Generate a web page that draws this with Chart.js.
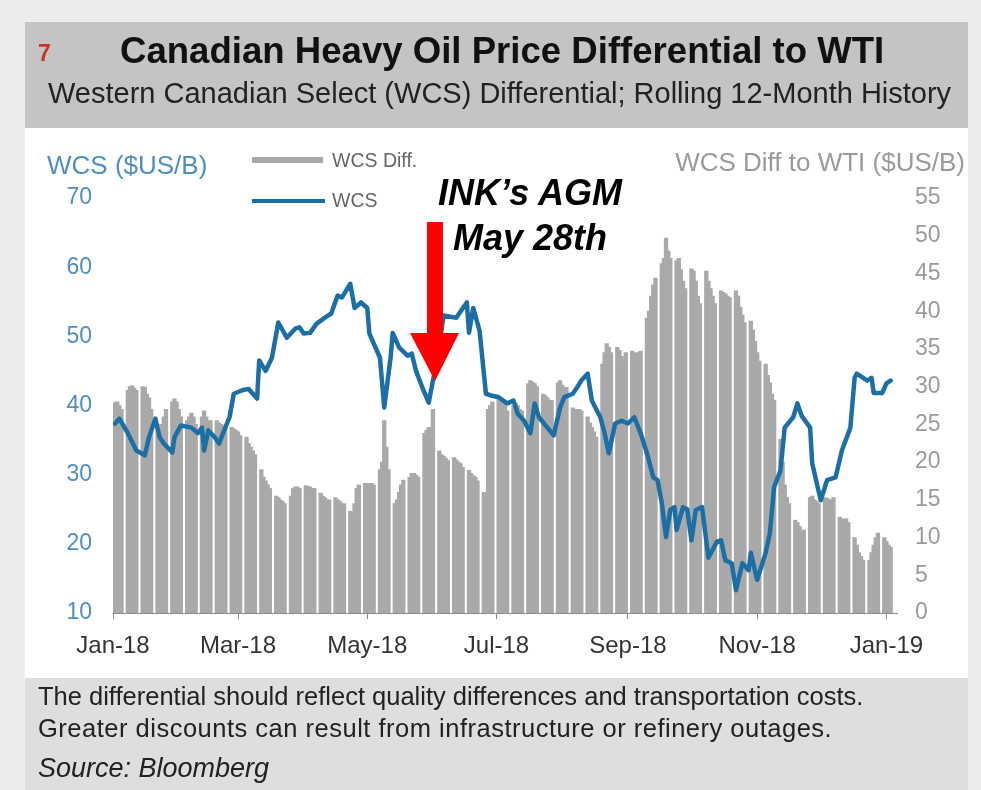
<!DOCTYPE html>
<html><head><meta charset="utf-8">
<script src="https://cdn.jsdelivr.net/npm/chart.js@4.4.1/dist/chart.umd.min.js"></script>
<style>
html,body{margin:0;padding:0;}
body{width:981px;height:790px;position:relative;background:#ececec;font-family:"Liberation Sans",Arial,sans-serif;overflow:hidden;}
#band{position:absolute;left:25px;top:22px;width:943px;height:106px;background:#c4c4c4;}
#panel{position:absolute;left:25px;top:128px;width:943px;height:550px;background:#ffffff;}
#foot{position:absolute;left:25px;top:678px;width:943px;height:112px;background:#dedede;}
canvas{position:absolute;left:0;top:0;}
.t{position:absolute;white-space:nowrap;line-height:1;}
svg{position:absolute;left:0;top:0;}
</style></head><body>
<div id="band"></div><div id="panel"></div><div id="foot"></div>
<canvas id="c" width="981" height="790"></canvas>
<div class="t" style="left:38px;top:42px;font-size:23px;font-weight:bold;color:#c8332b;">7</div>
<div class="t" style="left:120px;top:33px;font-size:36.6px;font-weight:bold;color:#111;">Canadian Heavy Oil Price Differential to WTI</div>
<div class="t" style="left:48px;top:79px;font-size:29px;color:#222;">Western Canadian Select (WCS) Differential; Rolling 12-Month History</div>
<div class="t" style="left:47px;top:152px;font-size:26px;color:#4f8fc0;">WCS ($US/B)</div>
<div class="t" style="right:16px;top:149px;font-size:26px;color:#9a9a9a;">WCS Diff to WTI ($US/B)</div>
<div style="position:absolute;left:252px;top:157px;width:71px;height:6px;background:#a9a9a9;"></div>
<div class="t" style="left:332px;top:151px;font-size:19.5px;color:#666;">WCS Diff.</div>
<div style="position:absolute;left:252px;top:199px;width:73px;height:4px;background:#1c6fa5;"></div>
<div class="t" style="left:332px;top:191px;font-size:19.5px;color:#666;">WCS</div>
<div class="t" style="left:380px;top:175px;width:300px;text-align:center;font-size:36px;font-weight:bold;font-style:italic;color:#000;">INK’s AGM</div>
<div class="t" style="left:380px;top:220px;width:300px;text-align:center;font-size:36px;font-weight:bold;font-style:italic;color:#000;">May 28th</div>
<svg width="981" height="790"><rect x="427" y="222" width="16" height="112" fill="#ff0000"/><polygon points="410,333 459,333 435,381" fill="#ff0000"/></svg>
<div class="t" style="left:38px;top:684px;font-size:25.5px;color:#222;">The differential should reflect quality differences and transportation costs.</div>
<div class="t" style="left:38px;top:716px;font-size:25.5px;letter-spacing:0.5px;color:#222;">Greater discounts can result from infrastructure or refinery outages.</div>
<div class="t" style="left:38px;top:755px;font-size:27px;font-style:italic;color:#222;">Source: Bloomberg</div>
<script>
// x values are days since 2018-01-01 (a Monday)
const xTickDays = [0, 59, 120, 181, 243, 304, 365];
const xTickLabels = ['Jan-18', 'Mar-18', 'May-18', 'Jul-18', 'Sep-18', 'Nov-18', 'Jan-19'];

// WCS differential to WTI ($US/B), business days Mon..Fri, week by week from 2018-01-01
const wcsDiffWeeks = [
  [27.5, 27.9, 28, 27.5, 27],
  [29.5, 30, 30.1, 29.8, 29.5],
  [30, 29.9, 29, 28.5, 27],
  [25, 24.5, 25, 26, 27],
  [28, 28.4, 28, 27, 26],
  [25.5, 26, 26.5, 26, 25],
  [26, 26.8, 26, 25.5, 25.5],
  [25.5, 25.2, 25, 24.8, 24.5],
  [24.6, 24.4, 24.2, 24, 23.5],
  [23.3, 22.5, 22, 21.5, 21],
  [19, 18, 17.5, 17, 16.5],
  [15.5, 15.3, 15, 14.8, 14.5],
  [15.5, 16.5, 16.7, 16.7, 16.5],
  [16.9, 16.8, 16.7, 16.5, 16.5],
  [15.9, 15.5, 15.3, 15, 15],
  [15.3, 15, 14.8, 14.5, 14.5],
  [13.5, 13.2, 14.5, 16.5, 17],
  [17.2, 17.2, 17, 17.2, 17],
  [19, 20, 25.5, 22, 19],
  [14.5, 15, 16, 17, 17.6],
  [18, 18.5, 18.5, 18.3, 18],
  [23.8, 24.2, 24.6, 24.2, 27],
  [21.5, 21, 20.8, 20.5, 20.2],
  [20.6, 20.3, 20, 19.8, 19.3],
  [18.9, 18.5, 18.2, 18, 17.5],
  [16, 15.5, 27, 27.5, 28],
  [28.5, 28.2, 27.8, 27.5, 26.8],
  [27.5, 27.8, 27.5, 27, 26.8],
  [30.4, 30.8, 30.6, 30.4, 30],
  [29, 28.8, 28.5, 28.2, 28.2],
  [30.5, 30.8, 30.2, 29.9, 29.9],
  [27.2, 27, 26.8, 27, 26.8],
  [26, 25.2, 24.6, 24, 23.3],
  [33, 34.5, 35.7, 35.2, 34.5],
  [35.2, 34.8, 34, 33.4, 34.5],
  [34.7, 34.5, 34.4, 34.5, 34.7],
  [39.1, 40, 42, 43.5, 44.4],
  [46.3, 47, 49.7, 48, 47],
  [46.7, 47, 45.5, 44, 43],
  [45.6, 45.3, 44, 42, 41],
  [45.3, 44, 43, 42, 41],
  [42.7, 42.5, 42.3, 42, 41.8],
  [42.7, 42, 40.5, 39.5, 38.5],
  [38.7, 37.5, 36, 34.5, 33.4],
  [33, 31.5, 30.5, 29, 28.2],
  [23, 20, 17, 15.3, 14.5],
  [12.3, 12, 11.5, 11, 11],
  [15.3, 15.5, 15, 14.8, 14.5],
  [15.3, 15.2, 15, 15, 15.3],
  [12.7, 12.5, 12.3, 12.5, 12],
  [10, 9, 8, 7.5, 7],
  [7, 8, 9, 10, 10.6],
  [10, 9.5, 9, 8.7]
];

// WCS price ($US/B)
const wcsDays = [1,3,7,11,15,17,20,22,24,28,29,32,37,40,42,43,45,48,50,53,55,57,61,64,68,69,72,75,78,82,86,88,90,93,96,100,103,106,108,112,114,117,120,121,126,128,131,132,135,139,141,143,146,149,151,154,156,162,167,168,170,173,176,179,182,186,189,191,194,197,199,201,205,208,211,213,217,219,221,224,226,230,232,234,237,240,243,246,249,252,255,257,259,261,263,265,266,269,271,273,275,278,281,285,287,289,292,294,297,300,301,304,308,310,312,315,317,321,323,325,329,330,334,337,341,344,348,350,351,356,358,359,363,365,367];
const wcsValues = [37.4,38.1,36,33.5,32.8,35.4,38.1,35.4,34.5,33.2,35.4,37.1,36.8,36,36.8,33.5,36.4,35.4,34.5,36.8,38.3,41.7,42.2,42.4,41,46.5,45,46.9,52,49.8,51.1,51.3,50.4,50.5,51.8,52.7,53.3,55.9,55.6,57.6,54.1,54.9,54.1,50.4,46.9,39.7,46.9,50.5,48.4,47.2,47.5,45,42.6,40.4,43.6,48.7,53,52.7,54.9,50.5,54.1,50.8,41.7,41.4,41.2,40.3,40.7,38.8,37.8,36,40.3,38.3,36.8,35.7,39.7,41.2,41.7,42.6,43.6,44.6,40.7,38.3,36,33.1,37.4,37.8,37.4,38.3,36,33.1,29.6,29.2,25.9,21,24.9,25.3,22,25.3,25,20.5,24.9,25.3,18,20.3,20.5,17.6,17.2,13.3,17.2,16.2,18.7,14.8,18.7,21.5,28.2,30.6,36.8,38.3,40.3,38.5,36.8,31.6,26.3,29.2,29.6,33.5,36.8,44,44.6,43.6,44,41.8,41.8,43.2,43.6];

const barData = [];
wcsDiffWeeks.forEach((wk, k) => wk.forEach((v, d) => barData.push({x: 7 * k + d, y: v})));
const lineData = wcsDays.map((d, i) => ({x: d, y: wcsValues[i]}));

const FONT = '"Liberation Sans", Arial, sans-serif';

new Chart(document.getElementById('c'), {
  type: 'bar',
  data: {
    datasets: [
      {type: 'line', label: 'WCS', data: lineData, yAxisID: 'y', borderColor: '#1c6fa5', borderWidth: 4.5,
       pointRadius: 0, tension: 0, borderJoinStyle: 'round', borderCapStyle: 'round', order: 0, fill: false},
      {type: 'bar', label: 'WCS Diff.', data: barData, yAxisID: 'y2', backgroundColor: '#a9a9a9',
       barThickness: 3.7, grouped: false, order: 1}
    ]
  },
  options: {
    responsive: false, animation: false, devicePixelRatio: 1,
    layout: {padding: {top: 198, bottom: 127, left: 0, right: 0}},
    plugins: {legend: {display: false}, tooltip: {enabled: false}},
    scales: {
      x: {
        type: 'linear', min: 0, max: 370, offset: false,
        afterBuildTicks: s => { s.ticks = xTickDays.map(v => ({value: v})); },
        afterFit: s => { s.height = 50; },
        ticks: {autoSkip: false, maxRotation: 0, minRotation: 0, color: '#333', padding: 13,
                font: {size: 24, family: FONT}, callback: (v, i) => xTickLabels[i]},
        grid: {display: true, offset: false, drawOnChartArea: false, drawTicks: true, tickLength: 6, color: '#8a8a8a'},
        border: {display: true, color: '#8a8a8a', width: 1}
      },
      y: {
        position: 'left', min: 10, max: 70,
        afterFit: s => { s.width = 113; },
        ticks: {stepSize: 10, color: '#4f8fc0', padding: 13, font: {size: 23, family: FONT}},
        grid: {display: false}, border: {display: false}
      },
      y2: {
        position: 'right', min: 0, max: 55,
        afterFit: s => { s.width = 84; },
        ticks: {stepSize: 5, color: '#9a9a9a', padding: 10, font: {size: 23, family: FONT}},
        grid: {display: false}, border: {display: false}
      }
    }
  }
});
</script>
</body></html>
